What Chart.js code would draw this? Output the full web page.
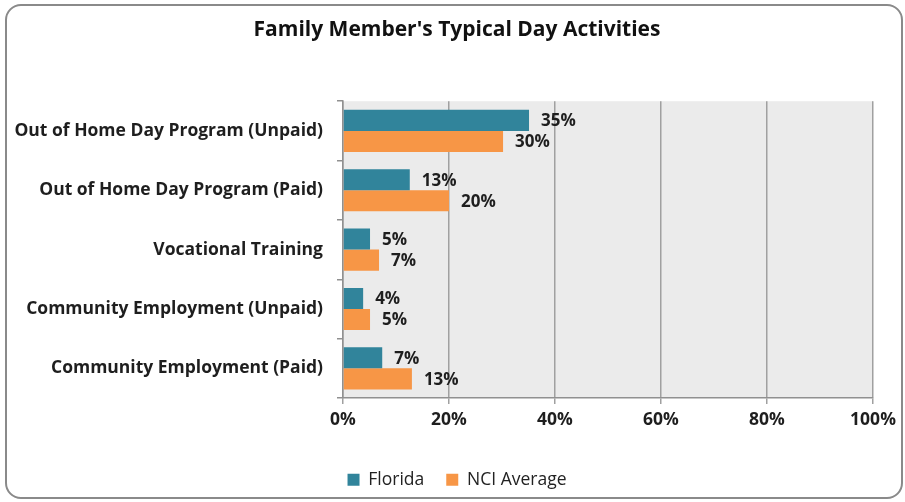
<!DOCTYPE html>
<html>
<head>
<meta charset="utf-8">
<script src="https://cdn.jsdelivr.net/npm/chart.js@4.4.1/dist/chart.umd.min.js"></script>
<style>
  html, body { margin: 0; padding: 0; background: #fff; }
  #wrap { position: relative; width: 905px; height: 502px; overflow: hidden; }
  #frame { position: absolute; left: 5px; top: 4px; width: 894px; height: 491px;
           border: 2px solid #8a8a8a; border-radius: 16px; }
  canvas { position: absolute; left: 0; top: 0; }
</style>
</head>
<body>
<div id="wrap">
  <div id="frame"></div>
  <canvas id="chart" width="905" height="502"></canvas>
</div>
<script>
// chart data
const categories = [
    "Out of Home Day Program (Unpaid)",
    "Out of Home Day Program (Paid)",
    "Vocational Training",
    "Community Employment (Unpaid)",
    "Community Employment (Paid)"
];
const floridaValues = [35.1, 12.6, 5.1, 3.8, 7.4];
const nciValues = [30.2, 20.0, 6.8, 5.1, 13.0];
const xTicks = [0, 20, 40, 60, 80, 100];

const FONT = "'Open Sans', 'Noto Sans', sans-serif";

// grey plot background
const plotBackground = {
    id: "plotBackground",
    beforeDraw(chart) {
        const { ctx, chartArea: a } = chart;
        ctx.save();
        ctx.fillStyle = "#ebebeb";
        ctx.fillRect(a.left, a.top, a.right - a.left, a.bottom - a.top);
        ctx.restore();
    }
};

// value labels at the end of each bar
const barLabels = {
    id: "barLabels",
    afterDatasetsDraw(chart) {
        const ctx = chart.ctx;
        ctx.save();
        ctx.font = "bold 17px " + FONT;
        ctx.fillStyle = "#1e1e1e";
        ctx.textAlign = "left";
        ctx.textBaseline = "middle";
        chart.data.datasets.forEach((ds, i) => {
            chart.getDatasetMeta(i).data.forEach((bar, j) => {
                ctx.fillText(Math.round(ds.data[j]) + "%", bar.x + 12, bar.y + 1);
            });
        });
        ctx.restore();
    }
};

new Chart(document.getElementById("chart").getContext("2d"), {
    type: "bar",
    data: {
        labels: categories,
        datasets: [{
            label: "Florida",
            data: floridaValues,
            backgroundColor: "#31849b",
            categoryPercentage: 0.71,
            barPercentage: 1.0
        }, {
            label: "NCI Average",
            data: nciValues,
            backgroundColor: "#f79646",
            categoryPercentage: 0.71,
            barPercentage: 1.0
        }]
    },
    options: {
        indexAxis: "y",
        responsive: false,
        animation: false,
        layout: { padding: { left: 9, right: 0, top: 0, bottom: 3.5 } },
        plugins: {
            tooltip: { enabled: false },
            title: {
                display: true,
                text: "Family Member's Typical Day Activities",
                color: "#111",
                font: { family: FONT, size: 21, weight: "bold" },
                padding: { top: 17, bottom: 59 }
            },
            legend: {
                position: "bottom",
                labels: {
                    color: "#222",
                    font: { family: FONT, size: 17.5 },
                    boxWidth: 12,
                    boxHeight: 12,
                    padding: 22
                }
            }
        },
        scales: {
            x: {
                min: 0,
                max: 100,
                afterBuildTicks(scale) {
                    scale.ticks = xTicks.map(v => ({ value: v }));
                },
                afterFit(scale) {
                    scale.height = 51;
                    scale.paddingRight = 32;
                },
                ticks: {
                    color: "#1e1e1e",
                    font: { family: FONT, size: 17.5, weight: "bold" },
                    padding: 6,
                    callback: v => v + "%"
                },
                grid: { color: "#a0a0a0", lineWidth: 1.5, tickLength: 6 },
                border: { color: "#909090", width: 1.5 }
            },
            y: {
                afterFit(scale) { scale.width = 334; },
                ticks: {
                    color: "#1e1e1e",
                    font: { family: FONT, size: 17.5, weight: "bold" },
                    padding: 14
                },
                grid: { offset: true, drawOnChartArea: false, tickLength: 6, color: "#909090", lineWidth: 1.5 },
                border: { color: "#909090", width: 1.5 }
            }
        }
    },
    plugins: [plotBackground, barLabels]
});
</script>
</body>
</html>
